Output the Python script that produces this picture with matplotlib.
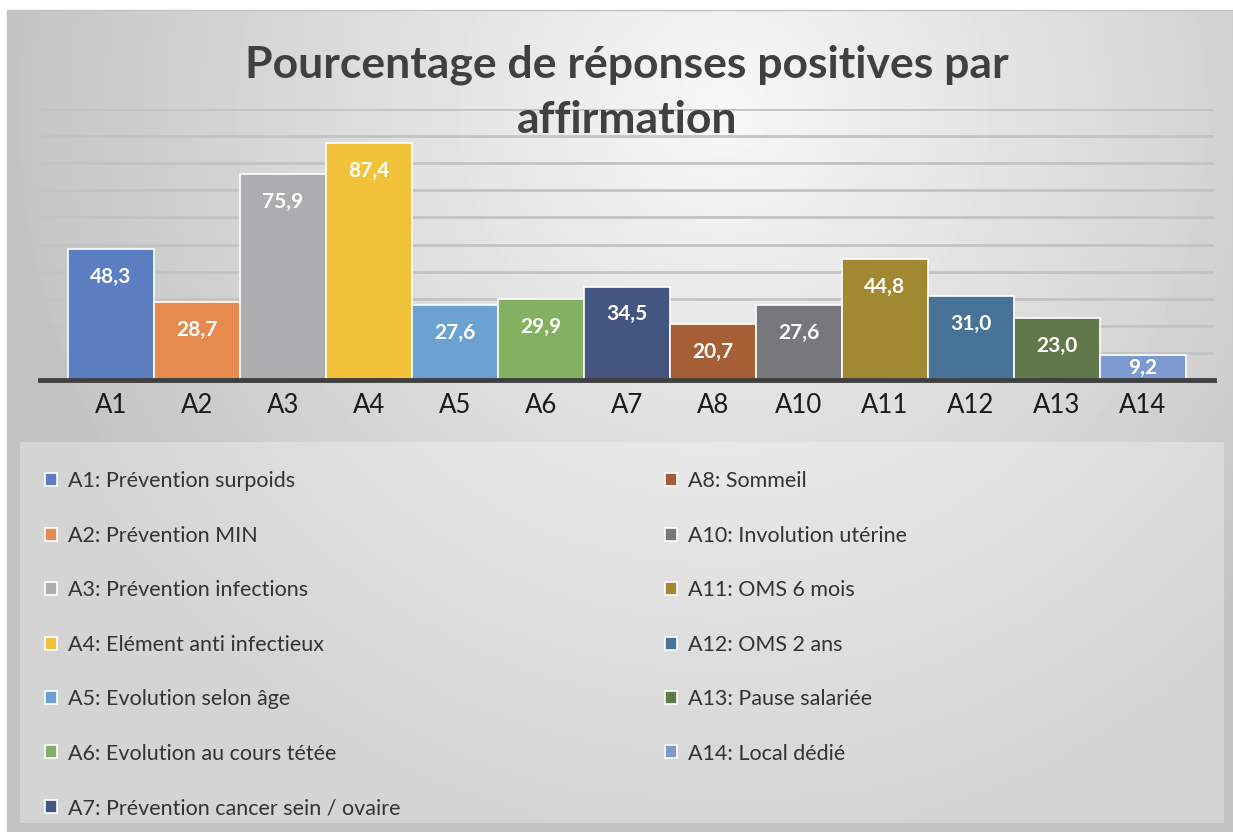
import matplotlib.pyplot as plt
import numpy as np
from matplotlib.patches import Rectangle

# Chart data
categories = ['A1', 'A2', 'A3', 'A4', 'A5', 'A6', 'A7', 'A8', 'A10', 'A11', 'A12', 'A13', 'A14']
values = [48.3, 28.7, 75.9, 87.4, 27.6, 29.9, 34.5, 20.7, 27.6, 44.8, 31.0, 23.0, 9.2]
legend_labels = [
    'A1: Prévention surpoids',
    'A2: Prévention MIN',
    'A3: Prévention infections',
    'A4: Elément anti infectieux',
    'A5: Evolution selon âge',
    'A6: Evolution au cours tétée',
    'A7: Prévention cancer sein / ovaire',
    'A8: Sommeil',
    'A10: Involution utérine',
    'A11: OMS 6 mois',
    'A12: OMS 2 ans',
    'A13: Pause salariée',
    'A14: Local dédié',
]
colors = ['#5b7fc0', '#e68a50', '#acadaf', '#f2c33a', '#6ca2d2', '#84b062',
          '#44557f', '#a65f35', '#76787c', '#a38832', '#487399', '#61784b', '#7d9ad0']

title = 'Pourcentage de réponses positives par\naffirmation'

plt.rcParams['font.family'] = ['Lato', 'DejaVu Sans']

W, H = 1233, 832
fig = plt.figure(figsize=(W / 100, H / 100), dpi=100)
fig.patch.set_facecolor('white')

# Background gradient (pixel coordinates)
bg = fig.add_axes([0, 0, 1, 1])
bg.set_xlim(0, W)
bg.set_ylim(H, 0)
bg.axis('off')
yy, xx = np.mgrid[0:H:4, 0:W:4]
dist = np.sqrt(((xx - 720) / 850.0) ** 2 + ((yy - 100) / 850.0) ** 2)
shade = np.clip(0.97 - 0.24 * dist, 0.76, 0.97)
bg.imshow(shade, cmap='gray', vmin=0, vmax=1, extent=[7, W, H, 10], aspect='auto', zorder=0)
bg.add_patch(Rectangle((7, 10), W - 7, H - 10, fill=False, edgecolor='#c4c4c4', lw=1, zorder=1))

# Legend box
bg.add_patch(Rectangle((20, 442), 1204, 381, facecolor='white', alpha=0.3, edgecolor='none', zorder=1))

# Main axes
ax = fig.add_axes([40 / W, (H - 380) / H, 1174 / W, 271 / H])
ax.set_facecolor('none')
x = np.arange(len(categories))
bars = ax.bar(x, values, width=1.0, color=colors, edgecolor='white', linewidth=1.2, zorder=3)
ax.set_xlim(-0.826, len(categories) - 1 + 0.826)
ax.set_ylim(0, 100)
ax.set_yticks(np.arange(10, 101, 10))
ax.yaxis.grid(True, color='#c3c3c3', linewidth=2, zorder=0)
ax.set_axisbelow(True)
for s in ['top', 'right', 'left']:
    ax.spines[s].set_visible(False)
ax.spines['bottom'].set_color('#404040')
ax.spines['bottom'].set_linewidth(3.5)
ax.spines['bottom'].set_zorder(4)
ax.set_yticklabels([])
ax.tick_params(axis='y', length=0)
ax.set_xticks(x)
ax.set_xticklabels(categories, fontsize=18.5, color='#1a1a1a')
ax.tick_params(axis='x', length=0, pad=9)

# Value labels inside the bars
for xi, v in zip(x, values):
    ypos = v - 10.3 if v > 20 else v / 2
    ax.text(xi, ypos, f'{v:.1f}'.replace('.', ','), ha='center', va='center',
            color='white', fontsize=15, fontweight='bold', zorder=5)

# Title
fig.text(627 / W, 1 - 92 / H, title, ha='center', va='center', fontsize=32,
         fontweight='bold', color='#404040', linespacing=1.45)

# Legend
fig.legend(bars, legend_labels, ncol=2, frameon=False, fontsize=15.5,
           loc='upper left', bbox_to_anchor=(26 / W, 1 - 452 / H),
           handlelength=0.55, handleheight=0.55, handletextpad=0.5,
           labelspacing=1.6, columnspacing=12.3, labelcolor='#333333')

fig.savefig('out.png', dpi=100)
